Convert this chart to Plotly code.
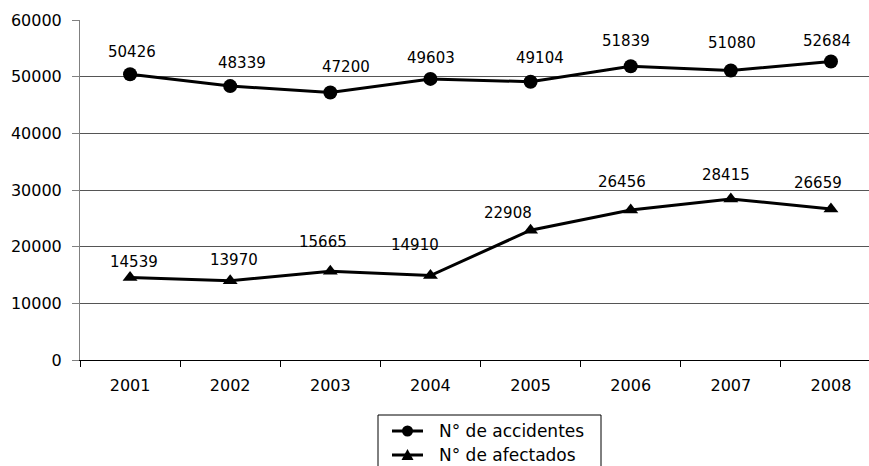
import plotly.graph_objects as go

years = ["2001", "2002", "2003", "2004", "2005", "2006", "2007", "2008"]
accidentes = [50426, 48339, 47200, 49603, 49104, 51839, 51080, 52684]
afectados = [14539, 13970, 15665, 14910, 22908, 26456, 28415, 26659]
series_names = ["N° de accidentes", "N° de afectados"]

# pixel nudges for the value labels (x, y) of each series
acc_dx = [2, 12, 16, 1, 9, -5, 1, -4]
acc_dy = [22, 23, 26, 21, 24, 25, 28, 20]
afe_dx = [4, 4, -7, -15, -23, -9, -5, -13]
afe_dy = [16, 21, 29, 31, 17, 28, 24, 26]

FONT = "DejaVu Sans"
W, H = 869, 466
ML, MT, MB = 80, 20, 106
PW, PH = W - ML, H - MT - MB


def px_x(p):
    return (p - ML) / PW


def px_y(p):
    return (H - MB - p) / PH


fig = go.Figure()
fig.add_trace(go.Scatter(
    x=years, y=accidentes, name=series_names[0], mode="lines+markers",
    line=dict(color="black", width=3),
    marker=dict(symbol="circle", size=14, color="black"),
    showlegend=False,
))
fig.add_trace(go.Scatter(
    x=years, y=afectados, name=series_names[1], mode="lines+markers",
    line=dict(color="black", width=3),
    marker=dict(symbol="triangle-up", size=13, color="black"),
    showlegend=False,
))

annotations = []
for series, dxs, dys in ((accidentes, acc_dx, acc_dy), (afectados, afe_dx, afe_dy)):
    for i, (v, dx, dy) in enumerate(zip(series, dxs, dys)):
        annotations.append(dict(
            x=i, y=v, xref="x", yref="y", text=str(v), showarrow=False,
            xshift=dx, yshift=dy,
            font=dict(family=FONT, size=15, color="black"),
        ))

# legend box below the plot (it runs past the bottom edge of the figure)
shapes = [dict(
    type="rect", xref="paper", yref="paper",
    x0=px_x(378), x1=px_x(601), y0=px_y(415), y1=px_y(480),
    line=dict(color="black", width=1), fillcolor="white", layer="above",
)]
for row, (name, cy) in enumerate(zip(series_names, (431, 455))):
    shapes.append(dict(
        type="line", xref="paper", yref="paper",
        x0=px_x(392), x1=px_x(423), y0=px_y(cy), y1=px_y(cy),
        line=dict(color="black", width=3), layer="above",
    ))
    if row == 0:
        shapes.append(dict(
            type="circle", xref="paper", yref="paper",
            x0=px_x(402), x1=px_x(413), y0=px_y(cy - 5.5), y1=px_y(cy + 5.5),
            line=dict(color="black", width=0), fillcolor="black", layer="above",
        ))
    else:
        path = "M {} {} L {} {} L {} {} Z".format(
            px_x(401.5), px_y(cy + 5), px_x(413.5), px_y(cy + 5),
            px_x(407.5), px_y(cy - 6))
        shapes.append(dict(
            type="path", xref="paper", yref="paper", path=path,
            line=dict(color="black", width=0), fillcolor="black", layer="above",
        ))
    annotations.append(dict(
        x=px_x(437), y=px_y(cy), xref="paper", yref="paper",
        xanchor="left", yanchor="middle", text=name, showarrow=False,
        font=dict(family=FONT, size=17, color="black"),
    ))

fig.update_layout(
    width=W, height=H,
    margin=dict(l=ML, r=0, t=MT, b=MB),
    paper_bgcolor="white", plot_bgcolor="white",
    font=dict(family=FONT, color="black"),
    annotations=annotations,
    shapes=shapes,
    showlegend=False,
    xaxis=dict(
        type="category", range=[-0.5, 7.38],
        showgrid=False, showline=True, linecolor="black", linewidth=1,
        ticks="outside", tickson="boundaries", ticklen=6, tickcolor="black",
        tickfont=dict(family=FONT, size=16, color="black"),
        ticklabelstandoff=11, tickangle=0,
    ),
    yaxis=dict(
        range=[0, 60000], tickvals=[0, 10000, 20000, 30000, 40000, 50000, 60000],
        tickformat="d",
        showgrid=True, gridcolor="#555555", gridwidth=1,
        showline=True, linecolor="#808080", linewidth=1,
        ticks="outside", ticklen=7, tickcolor="#808080",
        tickfont=dict(family=FONT, size=16, color="black"),
        ticklabelstandoff=7, zeroline=False,
    ),
)

fig.write_html("out.html")
